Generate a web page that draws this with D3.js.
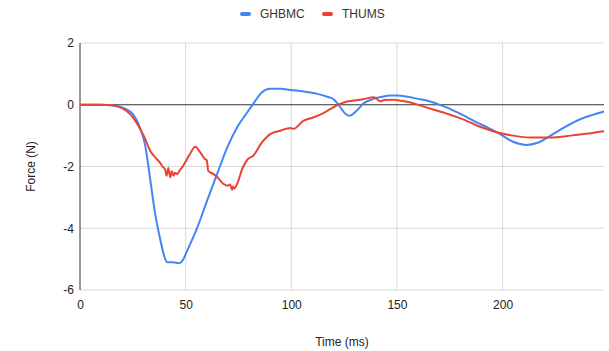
<!DOCTYPE html>
<html>
<head>
<meta charset="utf-8">
<script src="https://cdn.jsdelivr.net/npm/d3@7"></script>
<style>
  body { margin: 0; background: #fff; }
  text { font-family: Arial, "Liberation Sans", sans-serif; }
</style>
</head>
<body>
<svg id="chart" width="609" height="351"></svg>
<script>
// series data
var seriesNames = ["GHBMC", "THUMS"];
var seriesColors = ["#4285f4", "#ea4335"];

var ghbmcTime = [0, 10, 15, 18, 22, 25, 28.4, 30.8, 33.2, 35.5, 37.9, 40.3, 41.2, 44, 47, 48.5, 50.7, 55.5, 60.2, 64.9, 69.7, 74.4, 79.1, 82, 86, 90, 95, 99.5, 106, 112, 117, 120, 122, 125.6, 127.5, 131, 134, 139, 143, 147, 150, 155, 160, 165, 169, 174, 178.7, 183, 188, 193, 197.6, 205, 211, 216.6, 222.7, 229, 237, 243, 248];
var ghbmcForce = [0, 0, -0.02, -0.05, -0.15, -0.3, -0.75, -1.3, -2.4, -3.5, -4.34, -4.99, -5.1, -5.1, -5.13, -5.05, -4.73, -3.98, -3.1, -2.24, -1.38, -0.73, -0.25, 0.03, 0.4, 0.52, 0.52, 0.48, 0.43, 0.36, 0.26, 0.18, 0.03, -0.29, -0.36, -0.19, 0.03, 0.19, 0.26, 0.3, 0.3, 0.26, 0.19, 0.12, 0.03, -0.1, -0.25, -0.4, -0.58, -0.74, -0.9, -1.2, -1.3, -1.23, -1.0, -0.74, -0.46, -0.32, -0.22];

var thumsTime = [0, 10, 15, 18, 22, 25, 28.4, 30.8, 33.2, 35.5, 37.9, 39, 40.3, 41, 41.8, 42.7, 43.5, 44.3, 45, 46, 47, 48.8, 52, 54.5, 57, 59, 60, 60.7, 63, 65, 67.8, 70, 71, 72, 72.5, 73, 74.4, 77, 79.6, 82, 86, 90, 94.8, 99.5, 101, 105.7, 110, 115, 119, 123, 126, 129, 134, 139, 140, 142, 144, 148, 152, 156, 161, 166, 172, 178.7, 183, 188, 193, 197.6, 205, 213, 222.7, 230, 235.5, 242, 248];
var thumsForce = [0, 0, -0.02, -0.06, -0.2, -0.4, -0.78, -1.1, -1.49, -1.7, -1.88, -2.0, -2.1, -2.3, -2.05, -2.35, -2.15, -2.3, -2.2, -2.25, -2.15, -1.98, -1.6, -1.36, -1.55, -1.75, -1.8, -2.14, -2.24, -2.35, -2.56, -2.62, -2.58, -2.75, -2.65, -2.72, -2.56, -2.04, -1.75, -1.65, -1.23, -0.95, -0.84, -0.75, -0.78, -0.52, -0.42, -0.28, -0.12, 0.03, 0.1, 0.13, 0.18, 0.24, 0.22, 0.11, 0.15, 0.16, 0.13, 0.08, -0.02, -0.13, -0.25, -0.41, -0.52, -0.68, -0.8, -0.9, -1.0, -1.06, -1.06, -1.02, -0.97, -0.92, -0.86];

var xTicks = [0, 50, 100, 150, 200];
var yTicks = [2, 0, -2, -4, -6];
var xLabel = "Time (ms)";
var yLabel = "Force (N)";

var svg = d3.select("#chart");
var mLeft = 80, mRight = 604, mTop = 43, mBottom = 290;

var x = d3.scaleLinear().domain([0, 248]).range([mLeft, mRight]);
var y = d3.scaleLinear().domain([-6, 2]).range([mBottom, mTop]);

// grid lines
svg.append("g").selectAll("line")
  .data(yTicks.filter(function (d) { return d !== 0; }))
  .enter().append("line")
  .attr("x1", mLeft).attr("x2", mRight)
  .attr("y1", function (d) { return y(d); }).attr("y2", function (d) { return y(d); })
  .attr("stroke", "#d9d9d9").attr("stroke-width", 1);

svg.append("g").selectAll("line")
  .data(xTicks.filter(function (d) { return d !== 0; }))
  .enter().append("line")
  .attr("x1", function (d) { return x(d); }).attr("x2", function (d) { return x(d); })
  .attr("y1", mTop).attr("y2", mBottom)
  .attr("stroke", "#d9d9d9").attr("stroke-width", 1);

// tick labels via axes (plain hyphen minus like the original)
var yAxis = svg.append("g")
  .attr("transform", "translate(" + (mLeft - 6) + ",0)")
  .call(d3.axisLeft(y).tickValues(yTicks).tickFormat(String).tickSize(0).tickPadding(0));
yAxis.select(".domain").remove();
yAxis.selectAll("text").attr("font-size", 12).attr("fill", "#222").attr("font-family", "Arial, 'Liberation Sans', sans-serif");

var xAxis = svg.append("g")
  .attr("transform", "translate(0," + (mBottom + 10) + ")")
  .call(d3.axisBottom(x).tickValues(xTicks).tickFormat(String).tickSize(0).tickPadding(0));
xAxis.select(".domain").remove();
xAxis.selectAll("text").attr("font-size", 12).attr("fill", "#222").attr("font-family", "Arial, 'Liberation Sans', sans-serif");

// zero line and left axis line
svg.append("line")
  .attr("x1", mLeft).attr("x2", mRight)
  .attr("y1", y(0)).attr("y2", y(0))
  .attr("stroke", "#333").attr("stroke-width", 1);
svg.append("line")
  .attr("x1", mLeft).attr("x2", mLeft)
  .attr("y1", mTop).attr("y2", mBottom)
  .attr("stroke", "#333").attr("stroke-width", 1);

// series lines
var line = d3.line()
  .curve(d3.curveMonotoneX)
  .x(function (d) { return x(d[0]); })
  .y(function (d) { return y(d[1]); });

var series = [
  d3.zip(ghbmcTime, ghbmcForce),
  d3.zip(thumsTime, thumsForce)
];

svg.append("g").selectAll("path")
  .data(series)
  .enter().append("path")
  .attr("d", line)
  .attr("fill", "none")
  .attr("stroke", function (d, i) { return seriesColors[i]; })
  .attr("stroke-width", 2)
  .attr("stroke-linejoin", "round");

// axis titles
svg.append("text")
  .attr("x", (mLeft + mRight) / 2).attr("y", 346)
  .attr("text-anchor", "middle")
  .attr("font-size", 12).attr("fill", "#222")
  .text(xLabel);

svg.append("text")
  .attr("transform", "translate(35," + ((mTop + mBottom) / 2) + ") rotate(-90)")
  .attr("text-anchor", "middle")
  .attr("font-size", 12).attr("fill", "#222")
  .text(yLabel);

// legend
var legendX = [240, 322];
var legend = svg.append("g").selectAll("g")
  .data(seriesNames)
  .enter().append("g")
  .attr("transform", function (d, i) { return "translate(" + legendX[i] + ",14)"; });
legend.append("rect")
  .attr("x", 0).attr("y", -2).attr("width", 11).attr("height", 4).attr("rx", 2)
  .attr("fill", function (d, i) { return seriesColors[i]; });
legend.append("text")
  .attr("x", 20).attr("y", 4)
  .attr("font-size", 12).attr("fill", "#333")
  .text(function (d) { return d; });
</script>
</body>
</html>
